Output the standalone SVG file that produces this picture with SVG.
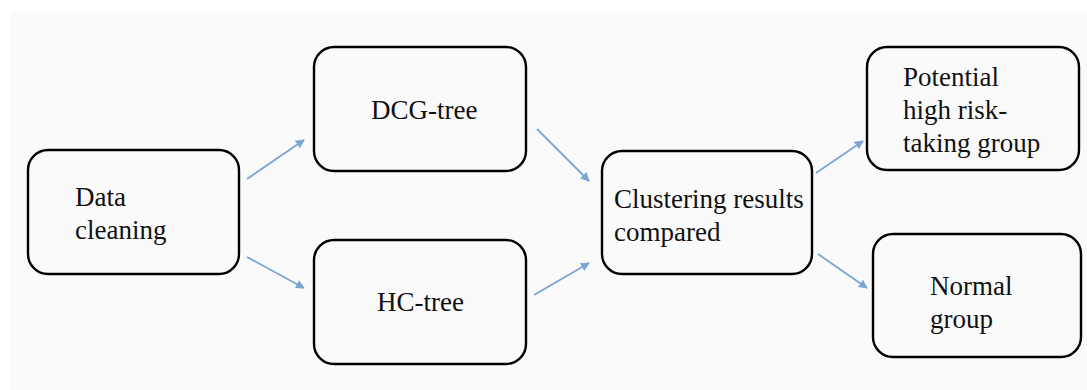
<svg xmlns="http://www.w3.org/2000/svg" width="1087" height="390" viewBox="0 0 1087 390">
<defs>
<style>
.box{fill:none;stroke:#000;stroke-width:2.4}
.t{font-family:'Liberation Serif','Times New Roman',serif;font-size:27px;fill:#111}
.c{stroke:#7aa6d2;stroke-width:1.8;fill:none}
</style>
<marker id="ah" viewBox="0 0 10 10" refX="9" refY="5" markerWidth="9" markerHeight="9" markerUnits="userSpaceOnUse" orient="auto"><path d="M0,0 L10,5 L0,10 z" fill="#7aa6d2"/></marker>
</defs>
<rect x="0" y="0" width="1087" height="390" fill="#fff"/>
<rect x="11" y="13" width="1076" height="377" fill="#fafafa"/>
<g id="connectors">
<line class="c" x1="247" y1="179" x2="304" y2="140" marker-end="url(#ah)"/>
<line class="c" x1="247" y1="257" x2="304" y2="288" marker-end="url(#ah)"/>
<line class="c" x1="537" y1="129" x2="589" y2="181" marker-end="url(#ah)"/>
<line class="c" x1="534" y1="295" x2="589" y2="263" marker-end="url(#ah)"/>
<line class="c" x1="816" y1="173" x2="863" y2="141" marker-end="url(#ah)"/>
<line class="c" x1="818" y1="254" x2="867" y2="288" marker-end="url(#ah)"/>
</g>
<g id="data-cleaning">
<rect class="box" x="28" y="150" width="211" height="124" rx="20"/>
<text class="t" x="75" y="206">Data</text>
<text class="t" x="75" y="239">cleaning</text>
</g>
<g id="dcg-tree">
<rect class="box" x="314" y="47" width="212" height="124" rx="20"/>
<text class="t" x="371" y="119">DCG-tree</text>
</g>
<g id="hc-tree">
<rect class="box" x="314" y="240" width="212" height="124" rx="20"/>
<text class="t" x="377" y="311">HC-tree</text>
</g>
<g id="clustering">
<rect class="box" x="602" y="151" width="210" height="123" rx="20"/>
<text class="t" x="614" y="208">Clustering results</text>
<text class="t" x="614" y="241">compared</text>
</g>
<g id="potential">
<rect class="box" x="867" y="47" width="212" height="123" rx="20"/>
<text class="t" x="903" y="86">Potential</text>
<text class="t" x="903" y="119">high risk-</text>
<text class="t" x="903" y="152">taking group</text>
</g>
<g id="normal">
<rect class="box" x="873" y="234" width="208" height="123" rx="20"/>
<text class="t" x="930" y="295">Normal</text>
<text class="t" x="930" y="328">group</text>
</g>
</svg>
